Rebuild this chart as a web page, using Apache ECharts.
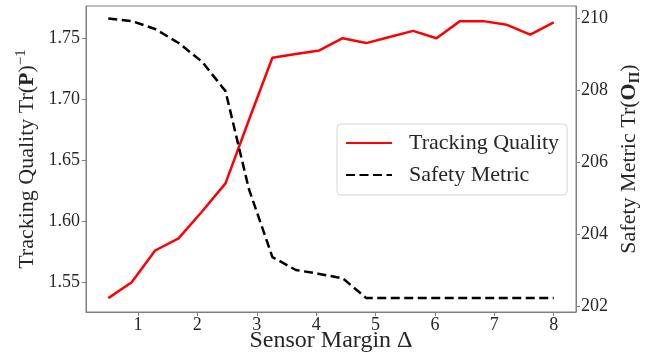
<!DOCTYPE html>
<html>
<head>
<meta charset="utf-8">
<script src="https://cdn.jsdelivr.net/npm/echarts@6/dist/echarts.min.js"></script>
<style>
  html, body { margin: 0; padding: 0; background: #fff; }
  #chart { width: 645px; height: 357px; }
</style>
</head>
<body>
<div id="chart"></div>
<script>
// sensor margin samples (20 points from 0.5 to 8)
const margins = [0.5, 0.895, 1.289, 1.684, 2.079, 2.474, 2.868, 3.263, 3.658, 4.053,
  4.447, 4.842, 5.237, 5.632, 6.026, 6.421, 6.816, 7.211, 7.605, 8.0];
const trackingQuality = [1.537, 1.550, 1.576, 1.586, 1.608, 1.631, 1.683, 1.734, 1.737, 1.740,
  1.750, 1.746, 1.751, 1.756, 1.750, 1.764, 1.764, 1.761, 1.753, 1.763];
const safetyMetric = [210.0, 209.93, 209.71, 209.32, 208.8, 207.98, 205.25, 203.36, 203.0, 202.89,
  202.77, 202.22, 202.22, 202.22, 202.22, 202.22, 202.22, 202.22, 202.22, 202.22];
const xTicks = [1, 2, 3, 4, 5, 6, 7, 8];
const leftTicks = [1.55, 1.60, 1.65, 1.70, 1.75];
const rightTicks = [202, 204, 206, 208, 210];

const FONT = 'Liberation Serif';
const TXT = '#262626';
const SPINE = '#7f7f7f';

const chart = echarts.init(document.getElementById('chart'));

const axisCommon = {
  axisLine: { show: true, lineStyle: { color: SPINE, width: 1 } },
  splitLine: { show: false },
  nameLocation: 'middle',
  nameMoveOverlap: false
};

chart.setOption({
  animation: false,
  grid: {
    left: 86, right: 69, top: 6, bottom: 45,
    outerBoundsMode: 'none',
    show: true, borderColor: SPINE, borderWidth: 1
  },
  legend: {
    orient: 'vertical',
    left: 337,
    top: 124,
    padding: [8, 8, 9, 8],
    itemWidth: 46,
    itemHeight: 14,
    itemGap: 10,
    itemStyle: { opacity: 0 },
    backgroundColor: 'rgba(255,255,255,0.8)',
    borderColor: '#d6d6d6',
    borderWidth: 1,
    borderRadius: 4,
    textStyle: { fontFamily: FONT, fontSize: 22, lineHeight: 22, color: TXT, padding: [0, 0, 0, 12] },
    data: ['Tracking Quality', 'Safety Metric']
  },
  xAxis: Object.assign({}, axisCommon, {
    type: 'value',
    min: 0.125,
    max: 8.375,
    name: 'Sensor Margin Δ',
    nameGap: 17,
    nameTextStyle: { fontFamily: FONT, fontSize: 24, color: TXT },
    axisTick: { show: true, length: 4, lineStyle: { color: SPINE }, customValues: xTicks },
    axisLabel: { customValues: xTicks, fontFamily: FONT, fontSize: 18, color: TXT, margin: 4 }
  }),
  yAxis: [
    Object.assign({}, axisCommon, {
      type: 'value',
      position: 'left',
      min: 1.5256,
      max: 1.7764,
      name: 'Tracking Quality Tr({b|P}){sup|−1}',
      nameRotate: 90,
      nameGap: 46,
      nameTextStyle: {
        fontFamily: FONT, fontSize: 22, color: TXT,
        rich: {
          b: { fontFamily: FONT, fontSize: 22, fontWeight: 'bold', color: TXT },
          sup: { fontFamily: FONT, fontSize: 15, color: TXT, verticalAlign: 'top', lineHeight: 26 }
        }
      },
      axisTick: { show: true, length: 4, lineStyle: { color: SPINE }, customValues: leftTicks },
      axisLabel: {
        customValues: leftTicks, fontFamily: FONT, fontSize: 18, color: TXT, margin: 6,
        formatter: v => v.toFixed(2)
      }
    }),
    Object.assign({}, axisCommon, {
      type: 'value',
      position: 'right',
      min: 201.83,
      max: 210.35,
      name: 'Safety Metric Tr({b|O}{sub|Π})',
      nameRotate: 90,
      nameGap: 39,
      nameTextStyle: {
        fontFamily: FONT, fontSize: 22, color: TXT,
        rich: {
          b: { fontFamily: FONT, fontSize: 22, fontWeight: 'bold', color: TXT },
          sub: { fontFamily: FONT, fontSize: 15, fontWeight: 'bold', color: TXT, verticalAlign: 'bottom', lineHeight: 28 }
        }
      },
      axisTick: { show: true, length: 4, lineStyle: { color: SPINE }, customValues: rightTicks },
      axisLabel: { customValues: rightTicks, fontFamily: FONT, fontSize: 18, color: TXT, margin: 5 }
    })
  ],
  series: [
    {
      name: 'Tracking Quality',
      type: 'line',
      yAxisIndex: 0,
      symbol: 'none',
      color: '#ff0000',
      lineStyle: { color: '#ff0000', width: 2.5 },
      data: margins.map((x, i) => [x, trackingQuality[i]])
    },
    {
      name: 'Safety Metric',
      type: 'line',
      yAxisIndex: 1,
      symbol: 'none',
      color: '#000000',
      lineStyle: { color: '#000000', width: 2.5, type: [9, 4.5] },
      data: margins.map((x, i) => [x, safetyMetric[i]])
    }
  ]
});
</script>
</body>
</html>
